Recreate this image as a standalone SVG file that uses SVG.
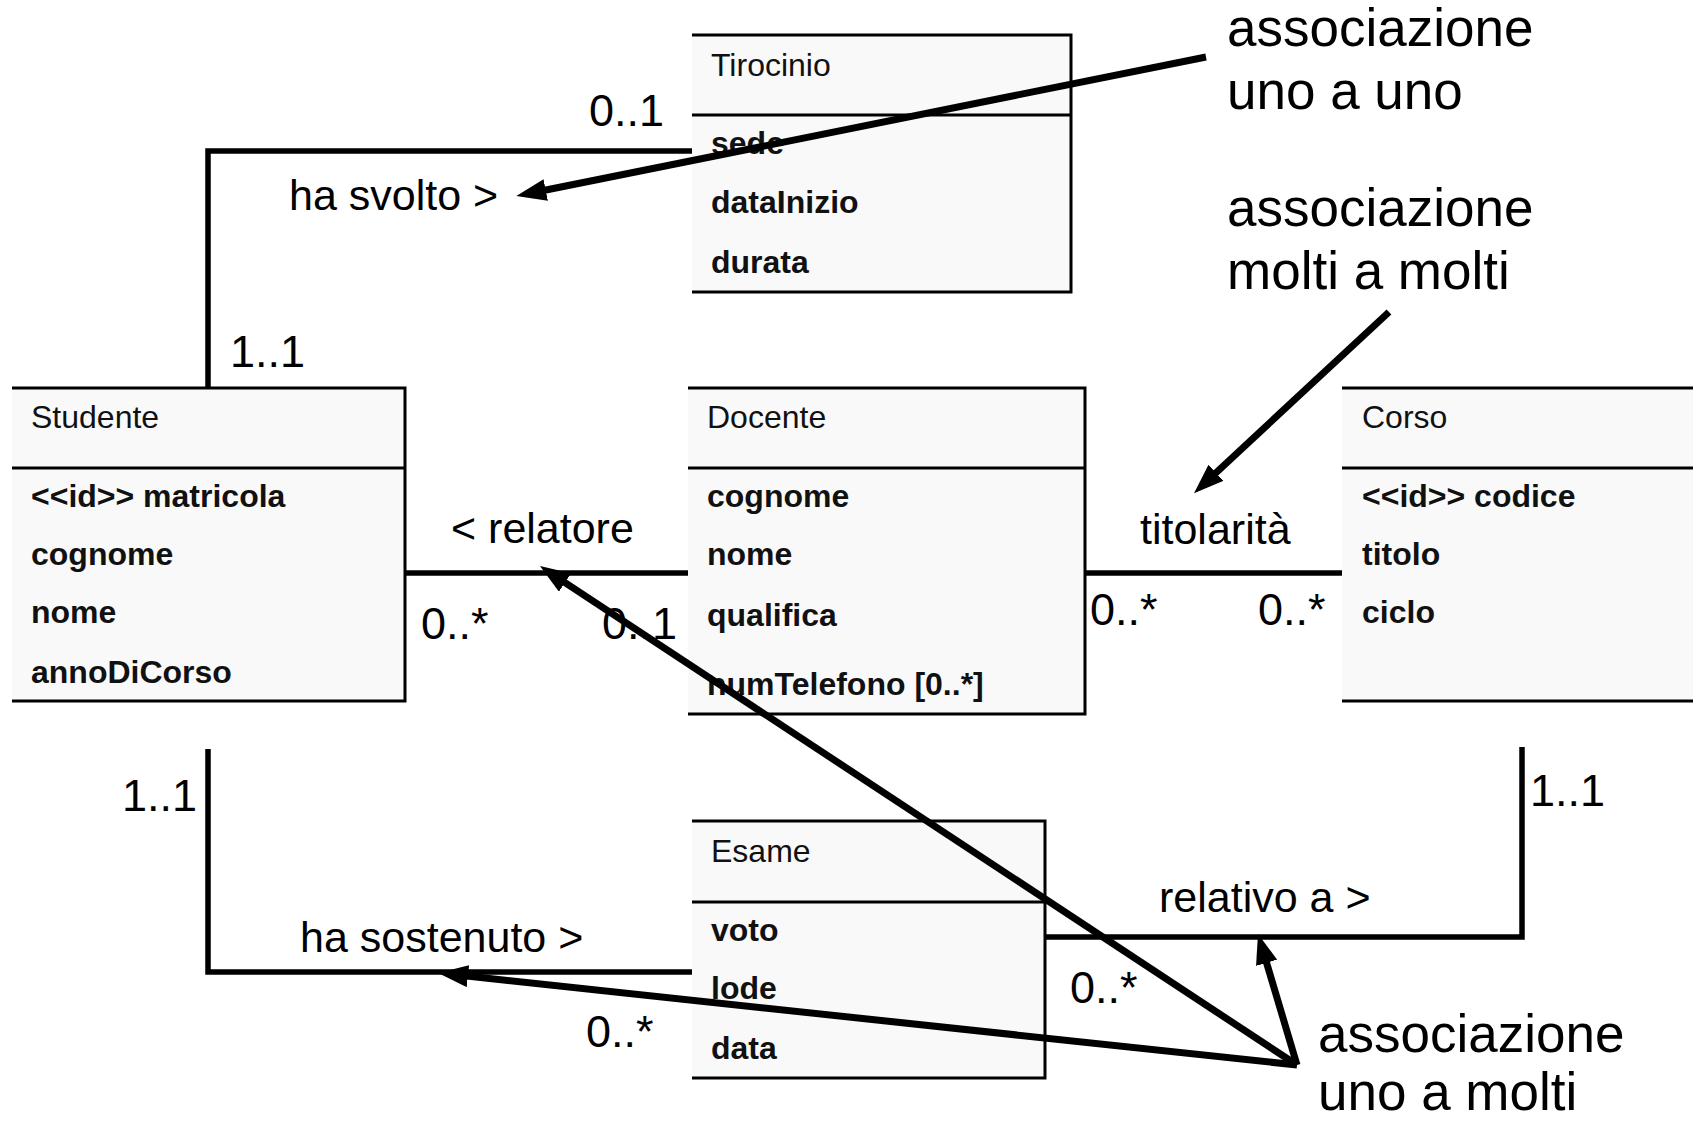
<svg xmlns="http://www.w3.org/2000/svg" width="1693" height="1122" viewBox="0 0 1693 1122">
  <style>
    .box { fill: #f9f9f9; stroke: none; }
    .edge { fill: none; stroke: #000; stroke-width: 3; }
    .title { font-family: "Liberation Sans", Arial, sans-serif; font-size: 32px; fill: #111; }
    .attr { font-family: "Liberation Sans", Arial, sans-serif; font-size: 32px; font-weight: bold; fill: #111; }
    .conn { fill: none; stroke: #000; stroke-width: 5.5; }
    .lbl { font-family: "Liberation Sans", Arial, sans-serif; font-size: 43px; fill: #000; }
    .mult { font-family: "Liberation Sans", Arial, sans-serif; font-size: 45px; fill: #000; }
    .note { font-family: "Liberation Sans", Arial, sans-serif; font-size: 53px; fill: #000; }
    .pointer { fill: none; stroke: #000; stroke-width: 7; marker-end: url(#head); }
  </style>
  <defs>
    <marker id="head" viewBox="0 0 30 22" refX="15" refY="11" markerWidth="30" markerHeight="22" markerUnits="userSpaceOnUse" orient="auto">
      <path d="M0,0 L30,11 L0,22 z" fill="#000"/>
    </marker>
  </defs>

  <rect width="1693" height="1122" fill="#fff"/>

  <!-- class boxes: open on the left side -->
  <g id="tirocinio">
    <rect class="box" x="692" y="35" width="379" height="257"/>
    <path class="edge" d="M692,35 H1071 V292 H692"/>
    <line class="edge" x1="692" y1="115" x2="1071" y2="115"/>
    <text class="title" x="711" y="76">Tirocinio</text>
    <text class="attr" x="711" y="154">sede</text>
    <text class="attr" x="711" y="213">dataInizio</text>
    <text class="attr" x="711" y="273">durata</text>
  </g>

  <g id="studente">
    <rect class="box" x="12" y="388" width="393" height="313"/>
    <path class="edge" d="M12,388 H405 V701 H12"/>
    <line class="edge" x1="12" y1="468" x2="405" y2="468"/>
    <text class="title" x="31" y="428">Studente</text>
    <text class="attr" x="31" y="507">&lt;&lt;id&gt;&gt; matricola</text>
    <text class="attr" x="31" y="565">cognome</text>
    <text class="attr" x="31" y="623">nome</text>
    <text class="attr" x="31" y="683">annoDiCorso</text>
  </g>

  <g id="docente">
    <rect class="box" x="688" y="388" width="397" height="326"/>
    <path class="edge" d="M688,388 H1085 V714 H688"/>
    <line class="edge" x1="688" y1="468" x2="1085" y2="468"/>
    <text class="title" x="707" y="428">Docente</text>
    <text class="attr" x="707" y="507">cognome</text>
    <text class="attr" x="707" y="565">nome</text>
    <text class="attr" x="707" y="626">qualifica</text>
    <text class="attr" x="707" y="695">numTelefono [0..*]</text>
  </g>

  <g id="corso">
    <rect class="box" x="1342" y="388" width="360" height="313"/>
    <path class="edge" d="M1342,388 H1700 M1342,701 H1700"/>
    <line class="edge" x1="1342" y1="468" x2="1700" y2="468"/>
    <text class="title" x="1362" y="428">Corso</text>
    <text class="attr" x="1362" y="507">&lt;&lt;id&gt;&gt; codice</text>
    <text class="attr" x="1362" y="565">titolo</text>
    <text class="attr" x="1362" y="623">ciclo</text>
  </g>

  <g id="esame">
    <rect class="box" x="692" y="821" width="353" height="257"/>
    <path class="edge" d="M692,821 H1045 V1078 H692"/>
    <line class="edge" x1="692" y1="902" x2="1045" y2="902"/>
    <text class="title" x="711" y="862">Esame</text>
    <text class="attr" x="711" y="941">voto</text>
    <text class="attr" x="711" y="999">lode</text>
    <text class="attr" x="711" y="1059">data</text>
  </g>

  <!-- associations with names and multiplicities -->
  <g id="connectors">
    <path class="conn" d="M692,151 H208 V388"/>
    <text class="lbl" x="289" y="210">ha svolto &gt;</text>
    <text class="mult" x="589" y="126">0..1</text>
    <text class="mult" x="230" y="367">1..1</text>

    <path class="conn" d="M405,573 H688"/>
    <text class="lbl" x="451" y="543">&lt; relatore</text>
    <text class="mult" x="421" y="639">0..*</text>
    <text class="mult" x="602" y="639">0..1</text>

    <path class="conn" d="M1085,573 H1342"/>
    <text class="lbl" x="1140" y="544">titolarità</text>
    <text class="mult" x="1090" y="625">0..*</text>
    <text class="mult" x="1258" y="625">0..*</text>

    <path class="conn" d="M208,749 V972 H692"/>
    <text class="lbl" x="300" y="952">ha sostenuto &gt;</text>
    <text class="mult" x="122" y="811">1..1</text>
    <text class="mult" x="586" y="1047">0..*</text>

    <path class="conn" d="M1045,937 H1522 V747"/>
    <text class="lbl" x="1159" y="912">relativo a &gt;</text>
    <text class="mult" x="1530" y="806">1..1</text>
    <text class="mult" x="1070" y="1003">0..*</text>
  </g>

  <!-- explanatory notes with pointers -->
  <g id="notes">
    <text class="note" x="1227" y="46">associazione</text>
    <text class="note" x="1227" y="109">uno a uno</text>
    <text class="note" x="1227" y="226">associazione</text>
    <text class="note" x="1227" y="289">molti a molti</text>
    <text class="note" x="1318" y="1052">associazione</text>
    <text class="note" x="1318" y="1110">uno a molti</text>

    <path class="pointer" d="M1206,57 L531,193"/>
    <path class="pointer" d="M1389,312 L1205,483"/>
    <path class="pointer" d="M1297,1065 L552.5,574.3"/>
    <path class="pointer" d="M1297,1065 L453,974.6"/>
    <path class="pointer" d="M1297,1065 L1262.3,948.4"/>
  </g>
</svg>
